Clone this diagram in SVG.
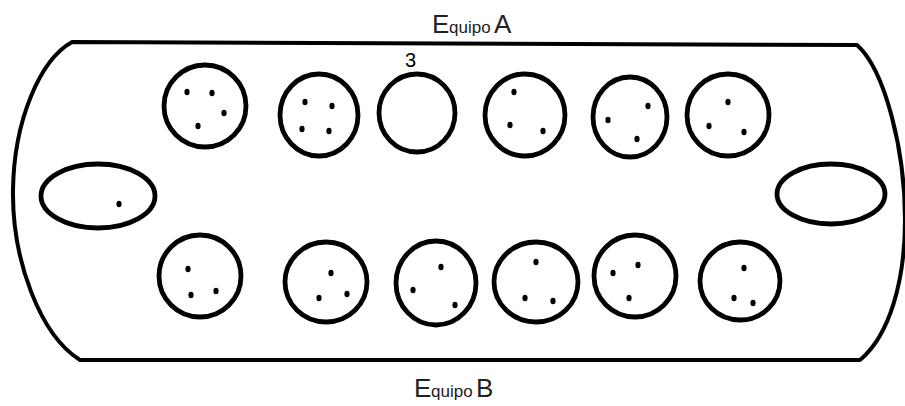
<svg xmlns="http://www.w3.org/2000/svg" width="905" height="406" viewBox="0 0 905 406">
<style>
.board{fill:none;stroke:#000;stroke-width:4;stroke-linejoin:round;stroke-linecap:round}
.pit{fill:none;stroke:#000;stroke-width:4.8}
.seed{fill:#000}
.lbl{font-family:"Liberation Sans",Arial,sans-serif;fill:#222}
.cap{font-size:26px}
.low{font-size:17px}
.num{font-family:"Liberation Sans",Arial,sans-serif;font-size:20px;fill:#000}
</style>
<defs>
<ellipse id="s" class="seed" rx="2.6" ry="3.2"/>
</defs>
<rect width="905" height="406" fill="#fff"/>
<g id="board">
<path class="board" d="M857,45 L72,42 C40,60 14,120 13,190 C12,260 40,335 80,360 L860,360 C890,335 905,280 905,220 C905,150 885,70 857,45 Z"/>
</g>
<g id="labels">
<text class="lbl" y="33"><tspan class="cap" x="432">E</tspan><tspan class="low" x="449">quipo</tspan><tspan class="cap" x="494">A</tspan></text>
<text class="lbl" y="397"><tspan class="cap" x="414">E</tspan><tspan class="low" x="431">quipo</tspan><tspan class="cap" x="476">B</tspan></text>
<text class="num" x="405" y="67">3</text>
</g>
<g id="store-left">
<ellipse class="pit" cx="98" cy="196" rx="57" ry="32"/>
<use href="#s" x="119" y="204"/>
</g>
<g id="store-right">
<ellipse class="pit" cx="831" cy="194" rx="54" ry="30"/>
</g>
<g id="pit-a1">
<ellipse class="pit" cx="205" cy="106" rx="41" ry="41"/>
<use href="#s" x="187" y="92"/><use href="#s" x="212" y="93"/><use href="#s" x="224" y="113"/><use href="#s" x="198" y="126"/>
</g>
<g id="pit-a2">
<ellipse class="pit" cx="319" cy="115" rx="39" ry="41"/>
<use href="#s" x="305" y="102"/><use href="#s" x="332" y="106"/><use href="#s" x="302" y="129"/><use href="#s" x="329" y="131"/>
</g>
<g id="pit-a3">
<ellipse class="pit" cx="417" cy="113" rx="38" ry="39"/>
</g>
<g id="pit-a4">
<ellipse class="pit" cx="525" cy="115" rx="40" ry="41"/>
<use href="#s" x="514" y="92"/><use href="#s" x="510" y="125"/><use href="#s" x="543" y="131"/>
</g>
<g id="pit-a5">
<ellipse class="pit" cx="630" cy="117" rx="37" ry="40"/>
<use href="#s" x="648" y="106"/><use href="#s" x="608" y="120"/><use href="#s" x="637" y="139"/>
</g>
<g id="pit-a6">
<ellipse class="pit" cx="728" cy="115" rx="41" ry="41"/>
<use href="#s" x="728" y="102"/><use href="#s" x="709" y="126"/><use href="#s" x="744" y="132"/>
</g>
<g id="pit-b1">
<ellipse class="pit" cx="200" cy="276" rx="41" ry="41"/>
<use href="#s" x="188" y="269"/><use href="#s" x="191" y="295"/><use href="#s" x="216" y="291"/>
</g>
<g id="pit-b2">
<ellipse class="pit" cx="326" cy="282" rx="41" ry="40"/>
<use href="#s" x="331" y="273"/><use href="#s" x="319" y="298"/><use href="#s" x="347" y="294"/>
</g>
<g id="pit-b3">
<ellipse class="pit" cx="436" cy="283" rx="40" ry="42"/>
<use href="#s" x="441" y="267"/><use href="#s" x="413" y="290"/><use href="#s" x="455" y="305"/>
</g>
<g id="pit-b4">
<ellipse class="pit" cx="536" cy="282" rx="42" ry="40"/>
<use href="#s" x="536" y="262"/><use href="#s" x="525" y="298"/><use href="#s" x="553" y="301"/>
</g>
<g id="pit-b5">
<ellipse class="pit" cx="635" cy="276" rx="41" ry="41"/>
<use href="#s" x="638" y="265"/><use href="#s" x="613" y="273"/><use href="#s" x="629" y="298"/>
</g>
<g id="pit-b6">
<ellipse class="pit" cx="740" cy="281" rx="40" ry="39"/>
<use href="#s" x="744" y="268"/><use href="#s" x="734" y="298"/><use href="#s" x="753" y="303"/>
</g>
<g id="connectors"/>
</svg>
